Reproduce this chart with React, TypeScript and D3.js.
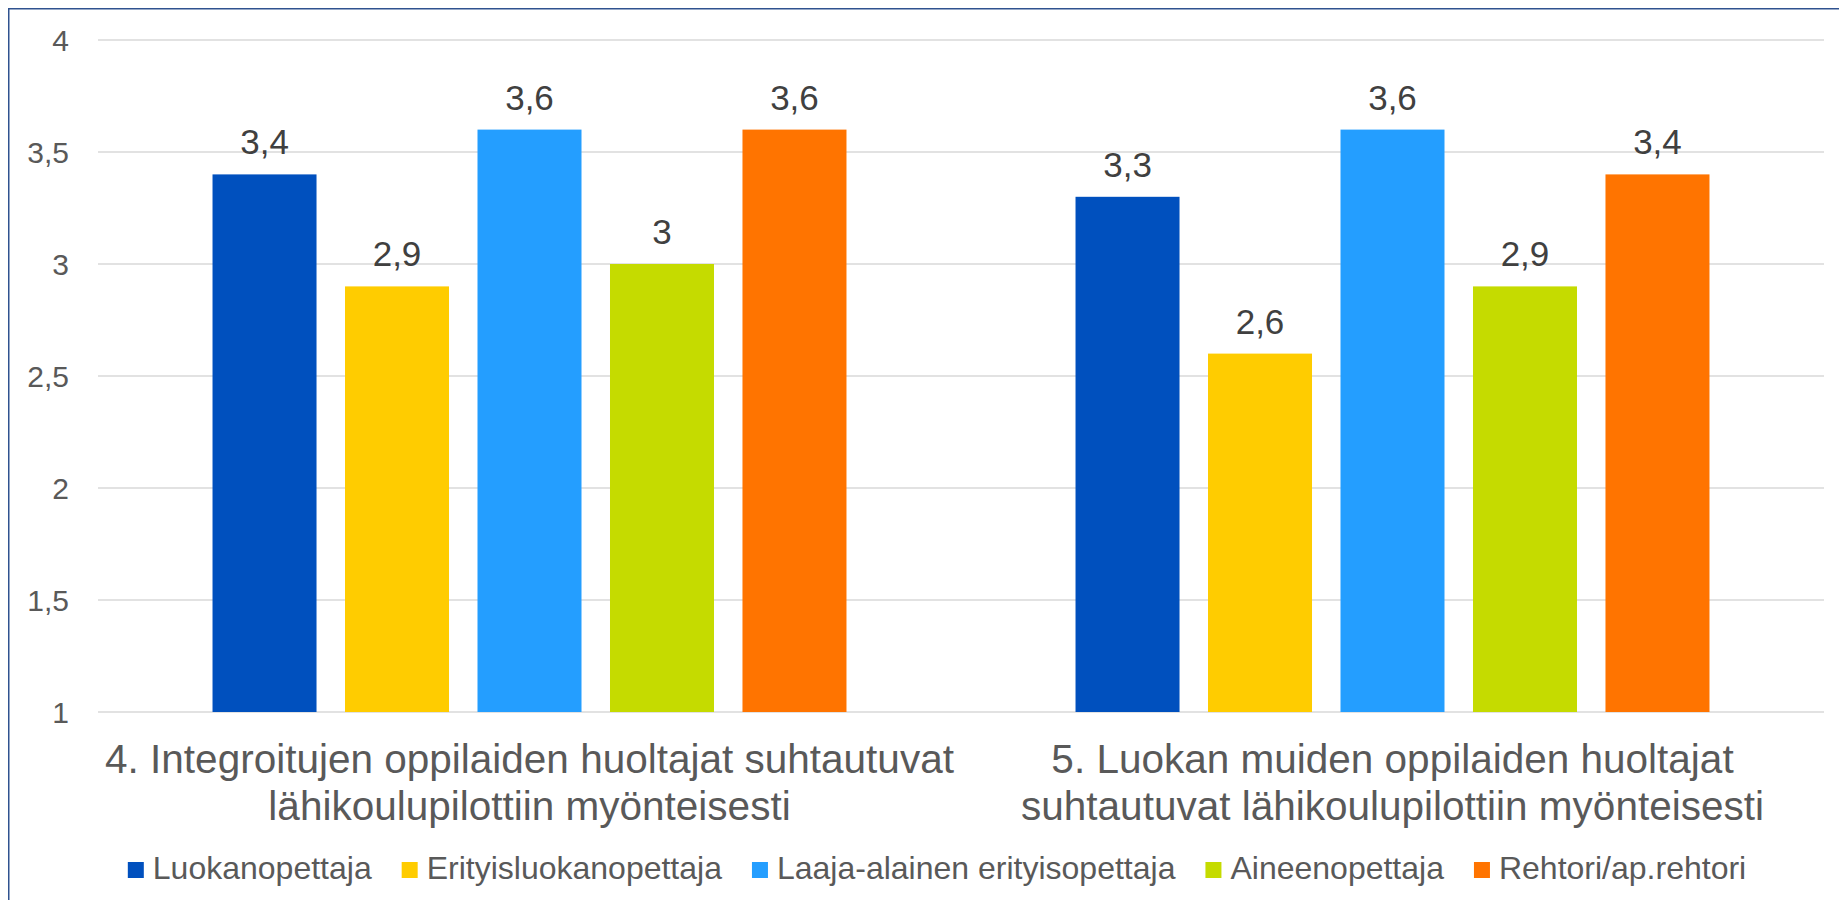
import React, { useEffect, useRef } from "react";
import * as d3 from "d3";

const categories = [
  ["4. Integroitujen oppilaiden huoltajat suhtautuvat", "lähikoulupilottiin myönteisesti"],
  ["5. Luokan muiden oppilaiden huoltajat", "suhtautuvat lähikoulupilottiin myönteisesti"],
];
const seriesNames = [
  "Luokanopettaja",
  "Erityisluokanopettaja",
  "Laaja-alainen erityisopettaja",
  "Aineenopettaja",
  "Rehtori/ap.rehtori",
];
const seriesColors = ["#0050BE", "#FFCC00", "#249EFF", "#C5DB00", "#FF7400"];
const values = [
  [3.4, 2.9, 3.6, 3.0, 3.6],
  [3.3, 2.6, 3.6, 2.9, 3.4],
];
const yTicks = [1, 1.5, 2, 2.5, 3, 3.5, 4];

const W = 1831;
const H = 892;

export default function App() {
  const ref = useRef<SVGSVGElement>(null);

  useEffect(() => {
    const svg = d3.select(ref.current);
    svg.selectAll("*").remove();
    const root = svg.append("g").attr("transform", "translate(-8,-8)");
    const font = "'Liberation Sans', Arial, sans-serif";

    // border
    root
      .append("rect")
      .attr("x", 8.75)
      .attr("y", 8.75)
      .attr("width", 1880)
      .attr("height", 940)
      .attr("fill", "white")
      .attr("stroke", "#2F528F")
      .attr("stroke-width", 1.5);

    const left = 98,
      right = 1824,
      top = 40,
      bottom = 712;
    const y = d3.scaleLinear().domain([1, 4]).range([bottom, top]);
    const x0 = d3
      .scaleBand<number>()
      .domain(categories.map((_, i) => i))
      .range([left, right])
      .padding(0);
    const bw = x0.bandwidth();
    const x1 = d3
      .scaleBand<number>()
      .domain(seriesNames.map((_, i) => i))
      .range([bw * 0.1327, bw * 0.8673])
      .paddingInner(0.215)
      .paddingOuter(0);

    // gridlines
    root
      .append("g")
      .selectAll("line")
      .data(yTicks)
      .join("line")
      .attr("x1", left)
      .attr("x2", right)
      .attr("y1", (d) => y(d))
      .attr("y2", (d) => y(d))
      .attr("stroke", "#D9D9D9")
      .attr("stroke-width", 1.5);

    // y tick labels
    root
      .append("g")
      .selectAll("text")
      .data(yTicks)
      .join("text")
      .attr("x", 69)
      .attr("y", (d) => y(d))
      .attr("dy", "0.35em")
      .attr("text-anchor", "end")
      .attr("font-family", font)
      .attr("font-size", 30)
      .attr("fill", "#595959")
      .text((d) => d3.format("")(d).replace(".", ","));

    // bars
    const groups = root
      .append("g")
      .selectAll("g")
      .data(values)
      .join("g")
      .attr("transform", (_, i) => `translate(${x0(i)},0)`);

    groups
      .selectAll("rect")
      .data((d) => d)
      .join("rect")
      .attr("x", (_, j) => x1(j)!)
      .attr("y", (d) => y(d))
      .attr("width", x1.bandwidth())
      .attr("height", (d) => y(1) - y(d))
      .attr("fill", (_, j) => seriesColors[j]);

    groups
      .selectAll("text")
      .data((d) => d)
      .join("text")
      .attr("x", (_, j) => x1(j)! + x1.bandwidth() / 2)
      .attr("y", (d) => y(d) - 20)
      .attr("text-anchor", "middle")
      .attr("font-family", font)
      .attr("font-size", 35)
      .attr("fill", "#404040")
      .text((d) => String(d).replace(".", ","));

    // category labels
    const cat = root
      .append("g")
      .selectAll("text")
      .data(categories)
      .join("text")
      .attr("x", (_, i) => x0(i)! + bw / 2)
      .attr("y", 773)
      .attr("text-anchor", "middle")
      .attr("font-family", font)
      .attr("font-size", 40.5)
      .attr("fill", "#595959");
    cat
      .selectAll("tspan")
      .data((d) => d)
      .join("tspan")
      .attr("x", function () {
        return (this.parentNode as SVGTextElement).getAttribute("x");
      })
      .attr("y", (_, k) => 773 + k * 47)
      .text((d) => d);

    // legend
    const legend = root.append("g");
    const items = legend
      .selectAll("g")
      .data(seriesNames)
      .join("g");
    items
      .append("rect")
      .attr("width", 16)
      .attr("height", 16)
      .attr("y", 862)
      .attr("fill", (_, j) => seriesColors[j]);
    items
      .append("text")
      .attr("x", 25)
      .attr("y", 879)
      .attr("font-family", font)
      .attr("font-size", 32)
      .attr("fill", "#595959")
      .text((d) => d);
    const widths: number[] = [];
    items.each(function () {
      const t = d3.select(this).select("text").node() as SVGTextElement;
      widths.push(25 + t.getComputedTextLength());
    });
    const gap = 30;
    const total = d3.sum(widths) + gap * (widths.length - 1);
    let cx = 937 - total / 2;
    items.attr("transform", (_, j) => {
      const tx = cx;
      cx += widths[j] + gap;
      return `translate(${tx},0)`;
    });
  }, []);

  return (
    <svg
      ref={ref}
      width={W}
      height={H}
      style={{ display: "block", background: "white" }}
    />
  );
}
